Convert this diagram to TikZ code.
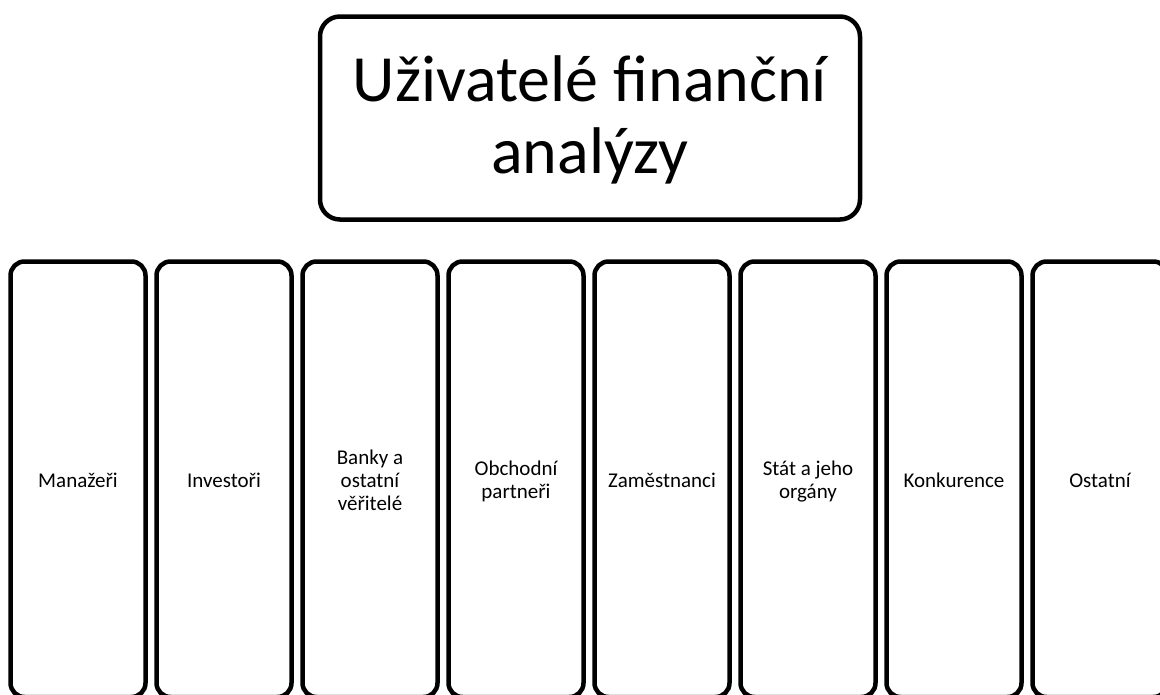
\documentclass[tikz,border=0pt]{standalone}
\usepackage{fontspec}
\setmainfont{Carlito}
\newcommand\stacklines[2]{\vtop{\baselineskip=#1\relax\halign{\hfil##\hfil\cr#2\crcr}}}
\begin{document}
\begin{tikzpicture}[x=1pt,y=-1pt,
  titlebox/.style={draw=black, line width=4.5pt, rounded corners=20pt, minimum width=540pt, minimum height=203pt, inner sep=0pt},
  titletext/.style={inner sep=0pt, anchor=base, font=\fontsize{66}{72}\selectfont},
  userbox/.style={draw=black, line width=4.5pt, rounded corners=14pt, minimum width=135pt, minimum height=435.5pt, inner sep=0pt},
  usertext/.style={inner sep=0pt, anchor=base, font=\fontsize{21}{23}\selectfont}]
\useasboundingbox (0,0) rectangle (1160,694);
\node[titlebox] (title) at (590,118) {};
\node[titletext] (titletxt) at (590,101) {\stacklines{72.5pt}{Uživatelé finanční\cr analýzy}};
\foreach \i/\x in {1/78,2/224,3/370,4/516,5/662,6/808,7/954,8/1100}
  \node[userbox] (b\i) at (\x,479.25) {};
\node[usertext] (t1) at (b1.center |- 0,487) {Manažeři};
\node[usertext] (t2) at (b2.center |- 0,487) {Investoři};
\node[usertext] (t3) at (b3.center |- 0,464) {\stacklines{23pt}{Banky a\cr ostatní\cr věřitelé}};
\node[usertext] (t4) at (b4.center |- 0,475.5) {\stacklines{23pt}{Obchodní\cr partneři}};
\node[usertext] (t5) at (b5.center |- 0,487) {Zaměstnanci};
\node[usertext] (t6) at (b6.center |- 0,475.5) {\stacklines{23pt}{Stát a jeho\cr orgány}};
\node[usertext] (t7) at (b7.center |- 0,487) {Konkurence};
\node[usertext] (t8) at (b8.center |- 0,487) {Ostatní};
\end{tikzpicture}
\end{document}
